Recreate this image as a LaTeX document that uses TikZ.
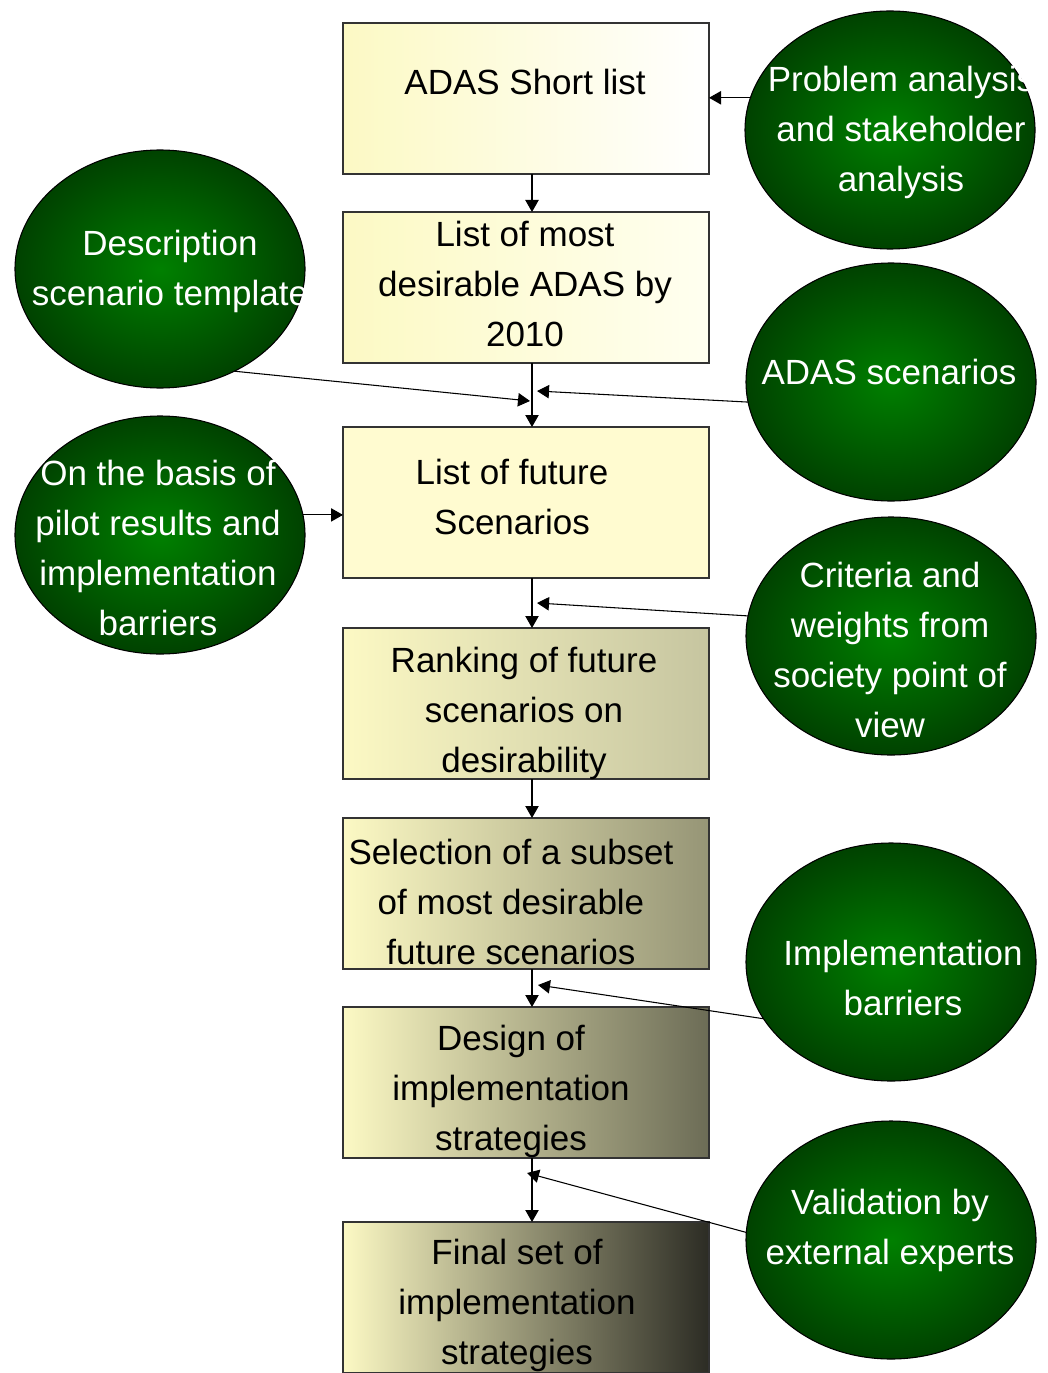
\documentclass[tikz,border=0pt]{standalone}
\usepackage{fontspec}
\setmainfont{Liberation Sans}
\usetikzlibrary{arrows.meta,shapes.geometric}
\definecolor{ylw}{RGB}{252,249,196}
\definecolor{ylwb}{RGB}{255,251,208}
\definecolor{gin}{RGB}{0,128,0}
\definecolor{gout}{RGB}{0,66,0}
\tikzset{
  box/.style={rectangle, draw=black!80, line width=1pt, inner sep=0pt, outer sep=0pt,
    minimum width=274.5pt, minimum height=113.25pt, shading=axis, shading angle=90},
  oval/.style={ellipse, draw=black, line width=0.8pt, inner sep=0pt, outer sep=0pt,
    minimum width=217.5pt, minimum height=178.5pt, inner color=gin, outer color=gout},
  btxt/.style={align=center, inner sep=0pt, font={\fontsize{26.25}{37.5}\selectfont}, text=black},
  etxt/.style={align=center, inner sep=0pt, font={\fontsize{26.25}{37.5}\selectfont}, text=white},
  arr/.style={-{Triangle[length=9pt,width=10pt]}, line width=0.8pt, black},
}
\begin{document}
\begin{tikzpicture}[x=0.75pt,y=-0.75pt]
\clip (0,0) rectangle (1048,1373);
\fill[white] (0,0) rectangle (1048,1373);

% boxes
\node[box, left color=ylw, right color=white] (b1) at (526,98.5) {};
\node[box, left color=ylw, right color={rgb,255:red,255;green,255;blue,240}] (b2) at (526,287.5) {};
\node[box, left color=ylwb, right color=ylwb] (b3) at (526,502.5) {};
\node[box, left color=ylw, right color={rgb,255:red,198;green,197;blue,160}] (b4) at (526,703.5) {};
\node[box, left color=ylw, right color={rgb,255:red,150;green,149;blue,118}] (b5) at (526,893.5) {};
\node[box, left color=ylw, right color={rgb,255:red,108;green,108;blue,86}] (b6) at (526,1082.5) {};
\node[box, left color=ylw, right color={rgb,255:red,44;green,44;blue,36}] (b7) at (526,1297.5) {};

\node[btxt] (t1) at (525,82) {ADAS Short list};
\node[btxt] (t2) at (525,284) {List of most\\desirable ADAS by\\2010};
\node[btxt] (t3) at (512,497) {List of future\\Scenarios};
\node[btxt] (t4) at (524,713) {Ranking of future\\scenarios on\\desirability};
\node[btxt] (t5) at (511,902) {Selection of a subset\\of most desirable\\future scenarios};
\node[btxt] (t6) at (511,1091) {Design of\\implementation\\strategies};
\node[btxt] (t7) at (517,1305) {Final set of\\implementation\\strategies};

% ellipses
\node[oval] (e1) at (890,130) {};
\node[oval] (e2) at (160,269) {};
\node[oval] (e3) at (891,382) {};
\node[oval] (e4) at (160,535) {};
\node[oval] (e5) at (891,636) {};
\node[oval] (e6) at (891,962) {};
\node[oval] (e7) at (891,1240) {};

\begin{scope}
\clip (e1.west |- e1.north) rectangle (e1.east |- e1.south);
\node[etxt] (s1) at (901,132) {Problem analysis\\and stakeholder\\analysis};
\end{scope}
\begin{scope}
\clip (e2.west |- e2.north) rectangle (e2.east |- e2.south);
\node[etxt] (s2) at (170,271) {Description\\scenario template};
\end{scope}
\node[etxt] (s3) at (889,372) {ADAS scenarios};
\node[etxt] (s4) at (158,548) {On the basis of\\pilot results and\\implementation\\barriers};
\node[etxt] (s5) at (890,650) {Criteria and\\weights from\\society point of\\view};
\node[etxt] (s6) at (903,978) {Implementation\\barriers};
\node[etxt] (s7) at (890,1230) {Validation by\\external experts};

% junction points
\coordinate (j1) at (530,401);
\coordinate (j2) at (537,391);
\coordinate (j3) at (537,603);
\coordinate (j4) at (538,985);
\coordinate (j5) at (527,1173);

% main flow
\draw[arr] ([xshift=4.5pt]b1.south) -- ([xshift=4.5pt]b2.north);
\draw[arr] ([xshift=4.5pt]b2.south) -- ([xshift=4.5pt]b3.north);
\draw[arr] ([xshift=4.5pt]b3.south) -- ([xshift=4.5pt]b4.north);
\draw[arr] ([xshift=4.5pt]b4.south) -- ([xshift=4.5pt]b5.north);
\draw[arr] ([xshift=4.5pt]b5.south) -- ([xshift=4.5pt]b6.north);
\draw[arr] ([xshift=4.5pt]b6.south) -- ([xshift=4.5pt]b7.north);

% inputs
\draw[arr] (e1.167) -- (e1.167 -| b1.east);
\draw[arr] (e2.-54) -- (j1);
\draw[arr] (e3.188) -- (j2);
\draw[arr] (e4.8) -- (e4.8 -| b3.west);
\draw[arr] (e5.172) -- (j3);
\draw[arr] (e6.204) -- (j4);
\draw[arr] (e7.177) -- (j5);
\end{tikzpicture}
\end{document}
